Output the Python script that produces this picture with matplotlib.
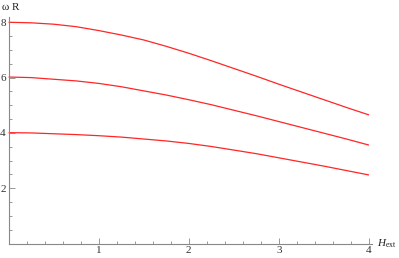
import matplotlib
matplotlib.use("Agg")
import matplotlib.pyplot as plt
from matplotlib.ticker import MultipleLocator

plt.rcParams["mathtext.fontset"] = "custom"
plt.rcParams["mathtext.rm"] = "Liberation Serif"
plt.rcParams["mathtext.it"] = "Liberation Serif:italic"

# Data
h_ext = [0.0, 0.25, 0.5, 0.75, 1.0, 1.25, 1.5, 1.75, 2.0,
         2.25, 2.5, 2.75, 3.0, 3.25, 3.5, 3.75, 4.0]
omega_top = [8.00, 7.98, 7.93, 7.84, 7.70, 7.54, 7.36, 7.13, 6.88,
             6.61, 6.33, 6.05, 5.76, 5.48, 5.20, 4.92, 4.65]
omega_mid = [6.02, 6.00, 5.94, 5.88, 5.79, 5.67, 5.52, 5.37, 5.20,
             5.02, 4.82, 4.62, 4.41, 4.20, 3.99, 3.78, 3.56]
omega_low = [4.01, 4.00, 3.97, 3.94, 3.90, 3.85, 3.78, 3.71, 3.62,
             3.51, 3.38, 3.25, 3.10, 2.95, 2.80, 2.64, 2.48]
x_ticks = [1, 2, 3, 4]
y_ticks = [2, 4, 6, 8]

W, H = 399, 258
fig = plt.figure(figsize=(W / 100, H / 100), dpi=100)
ax = fig.add_axes([8.6 / W, 14.4 / H, 363.1 / W, 226.6 / H])

for ys in (omega_top, omega_mid, omega_low):
    ax.plot(h_ext, ys, color=(1.0, 0.15, 0.15), lw=0.9, solid_capstyle="butt",
            solid_joinstyle="round", clip_on=False)

ax.set_xlim(0, 4.03)
ax.set_ylim(0, 8.19)
for s in ("top", "right"):
    ax.spines[s].set_visible(False)
for s in ("left", "bottom"):
    ax.spines[s].set_color("#888888")
    ax.spines[s].set_linewidth(0.8)

ax.set_xticks(x_ticks)
ax.set_yticks(y_ticks)
ax.xaxis.set_minor_locator(MultipleLocator(0.2))
ax.yaxis.set_minor_locator(MultipleLocator(0.5))
ax.tick_params(which="both", direction="in", color="#888888", width=0.6)
ax.tick_params(which="major", length=4)
ax.tick_params(which="minor", length=2.2)
ax.tick_params(axis="x", which="major", pad=2)
ax.tick_params(axis="y", which="major", pad=2)
for lbl in ax.get_xticklabels() + ax.get_yticklabels():
    lbl.set_fontfamily("Liberation Serif")
    lbl.set_fontsize(8)
    lbl.set_color("#333333")

fig.text(2 / W, 1 - 7 / H, "ω R", fontsize=8, family="Liberation Serif",
         ha="left", va="center", color="#222222")
fig.text(377 / W, 1 - 244 / H, r"$\mathit{H}_{\mathrm{ext}}$", fontsize=8,
         ha="left", va="center", color="#222222")

fig.savefig("out.png", dpi=100)
